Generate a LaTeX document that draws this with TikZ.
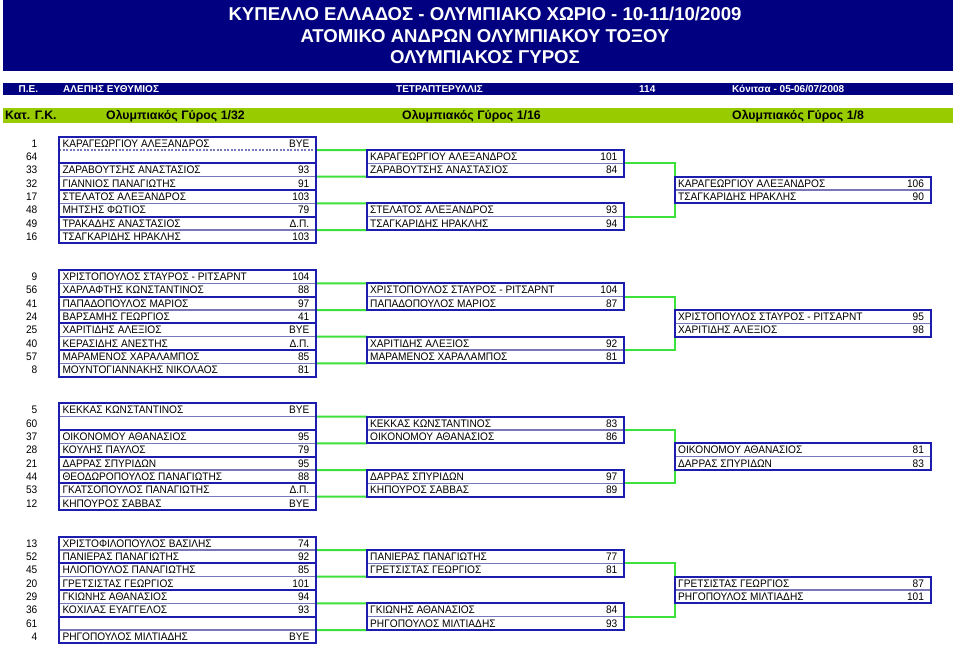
\documentclass[tikz,border=0pt]{standalone}
\usepackage{fontspec}
\setmainfont{Liberation Sans}
\newfontfamily\bodyfam[FakeStretch=0.93]{Liberation Sans}
\usetikzlibrary{calc}
\definecolor{navy}{RGB}{0,0,128}
\definecolor{barGreen}{RGB}{153,204,0}
\definecolor{boxBlue}{RGB}{28,28,175}
\definecolor{sepLine}{RGB}{120,120,185}
\definecolor{connGreen}{RGB}{60,225,60}
\pgfdeclarelayer{bg}
\pgfdeclarelayer{paper}
\pgfsetlayers{paper,bg,main}
\newcommand\bodyfont{\bodyfam\fontsize{10.9}{12}\selectfont}
\tikzset{
  pbox/.style={draw=boxBlue, line width=2pt, rectangle, inner sep=0pt, outer sep=0pt, minimum height=26.67pt, anchor=north west},
  nm/.style={anchor=base west, inner sep=0pt, font=\bodyfont},
  sc/.style={anchor=base east, inner sep=0pt, font=\bodyfont},
  seed/.style={anchor=base east, inner sep=0pt, font=\bodyfont},
  sepsolid/.style={draw=sepLine, line width=1.3pt},
  sepdash/.style={draw=sepLine, line width=1.3pt, dash pattern=on 2pt off 1.5pt},
  conn/.style={draw=connGreen, line width=2pt},
  ttl/.style={anchor=base, inner sep=0pt, text=white, font=\fontsize{18.6}{20}\selectfont\bfseries},
  infotxt/.style={anchor=base west, inner sep=0pt, text=white, font=\fontsize{10}{11}\selectfont\bfseries},
  roundtxt/.style={anchor=base west, inner sep=0pt, text=black, font=\fontsize{12.3}{14}\selectfont\bfseries},
}
\newcommand\h{13.333}
% #1 name, #2 x, #3 y top, #4 width, #5 name1, #6 score1, #7 name2, #8 score2, #9 separator style
\newcommand\pairbox[9]{%
  \node[pbox, minimum width=#4pt] (#1) at (#2,#3) {};
  \begin{pgfonlayer}{bg}
    \draw[#9] (#1.west) -- (#1.east);
  \end{pgfonlayer}
  \node[nm] (#1n1) at ($(#1.north west)+(3,10.6)$) {#5};
  \node[sc] (#1s1) at ($(#1.north east)+(-6.5,10.6)$) {#6};
  \node[nm] (#1n2) at ($(#1.north west)+(3,23.93)$) {#7};
  \node[sc] (#1s2) at ($(#1.north east)+(-6.5,23.93)$) {#8};
}
\newcommand\seednum[3]{\node[seed] (#1) at (37.5,{\T+#2*\h+10.6}) {#3};}
\newcommand\links[1]{%
  \begin{pgfonlayer}{bg}
    \draw[conn] (#1a.east) -- (#1m1.north west);
    \draw[conn] (#1b.east) -- (#1m1.south west);
    \draw[conn] (#1c.east) -- (#1m2.north west);
    \draw[conn] (#1d.east) -- (#1m2.south west);
    \draw[conn] (#1m1.east) -| (#1f.west) |- (#1m2.east);
  \end{pgfonlayer}
}
\begin{document}
\begin{tikzpicture}[x=1pt,y=-1pt]
\useasboundingbox (0,0) rectangle (960,648);
\begin{pgfonlayer}{paper}
\fill[white] (0,0) rectangle (960,648);
\end{pgfonlayer}
% header
\fill[navy] (3,0) rectangle (953,71);
\node[ttl] (title1) at (485,20.5) {ΚΥΠΕΛΛΟ ΕΛΛΑΔΟΣ - ΟΛΥΜΠΙΑΚΟ ΧΩΡΙΟ - 10-11/10/2009};
\node[ttl] (title2) at (485,42) {ΑΤΟΜΙΚΟ ΑΝΔΡΩΝ ΟΛΥΜΠΙΑΚΟΥ ΤΟΞΟΥ};
\node[ttl] (title3) at (485,63.5) {ΟΛΥΜΠΙΑΚΟΣ ΓΥΡΟΣ};
% info bar
\fill[navy] (3,82.7) rectangle (953,95);
\node[infotxt] (pe) at (18.5,92.5) {Π.Ε.};
\node[infotxt] (judge) at (63,92.5) {ΑΛΕΠΗΣ ΕΥΘΥΜΙΟΣ};
\node[infotxt] (club) at (396,92.5) {ΤΕΤΡΑΠΤΕΡΥΛΛΙΣ};
\node[infotxt] (score) at (639,92.5) {114};
\node[infotxt] (place) at (732,92.5) {Κόνιτσα - 05-06/07/2008};
% rounds bar
\fill[barGreen] (3,107.7) rectangle (953,123.3);
\node[roundtxt] (cat) at (5,119.8) {Κατ. Γ.Κ.};
\node[roundtxt] (r32) at (106,119.8) {Ολυμπιακός Γύρος 1/32};
\node[roundtxt] (r16) at (402,119.8) {Ολυμπιακός Γύρος 1/16};
\node[roundtxt] (r8) at (732,119.8) {Ολυμπιακός Γύρος 1/8};

% ---------- section 1
\def\T{136.67}
\seednum{Aq0}{0}{1}\seednum{Aq1}{1}{64}\seednum{Aq2}{2}{33}\seednum{Aq3}{3}{32}
\seednum{Aq4}{4}{17}\seednum{Aq5}{5}{48}\seednum{Aq6}{6}{49}\seednum{Aq7}{7}{16}
\pairbox{Aa}{59.3}{\T}{256.7}{ΚΑΡΑΓΕΩΡΓΙΟΥ ΑΛΕΞΑΝΔΡΟΣ}{BYE}{}{}{sepdash}
\pairbox{Ab}{59.3}{\T+2*\h}{256.7}{ΖΑΡΑΒΟΥΤΣΗΣ ΑΝΑΣΤΑΣΙΟΣ}{93}{ΓΙΑΝΝΙΟΣ ΠΑΝΑΓΙΩΤΗΣ}{91}{sepsolid}
\pairbox{Ac}{59.3}{\T+4*\h}{256.7}{ΣΤΕΛΑΤΟΣ ΑΛΕΞΑΝΔΡΟΣ}{103}{ΜΗΤΣΗΣ ΦΩΤΙΟΣ}{79}{sepsolid}
\pairbox{Ad}{59.3}{\T+6*\h}{256.7}{ΤΡΑΚΑΔΗΣ ΑΝΑΣΤΑΣΙΟΣ}{Δ.Π.}{ΤΣΑΓΚΑΡΙΔΗΣ ΗΡΑΚΛΗΣ}{103}{sepsolid}
\pairbox{Am1}{367}{\T+\h}{257}{ΚΑΡΑΓΕΩΡΓΙΟΥ ΑΛΕΞΑΝΔΡΟΣ}{101}{ΖΑΡΑΒΟΥΤΣΗΣ ΑΝΑΣΤΑΣΙΟΣ}{84}{sepsolid}
\pairbox{Am2}{367}{\T+5*\h}{257}{ΣΤΕΛΑΤΟΣ ΑΛΕΞΑΝΔΡΟΣ}{93}{ΤΣΑΓΚΑΡΙΔΗΣ ΗΡΑΚΛΗΣ}{94}{sepsolid}
\pairbox{Af}{675}{\T+3*\h}{255.7}{ΚΑΡΑΓΕΩΡΓΙΟΥ ΑΛΕΞΑΝΔΡΟΣ}{106}{ΤΣΑΓΚΑΡΙΔΗΣ ΗΡΑΚΛΗΣ}{90}{sepsolid}
\links{A}

% ---------- section 2
\def\T{270}
\seednum{Bq0}{0}{9}\seednum{Bq1}{1}{56}\seednum{Bq2}{2}{41}\seednum{Bq3}{3}{24}
\seednum{Bq4}{4}{25}\seednum{Bq5}{5}{40}\seednum{Bq6}{6}{57}\seednum{Bq7}{7}{8}
\pairbox{Ba}{59.3}{\T}{256.7}{ΧΡΙΣΤΟΠΟΥΛΟΣ ΣΤΑΥΡΟΣ - ΡΙΤΣΑΡΝΤ}{104}{ΧΑΡΛΑΦΤΗΣ ΚΩΝΣΤΑΝΤΙΝΟΣ}{88}{sepsolid}
\pairbox{Bb}{59.3}{\T+2*\h}{256.7}{ΠΑΠΑΔΟΠΟΥΛΟΣ ΜΑΡΙΟΣ}{97}{ΒΑΡΣΑΜΗΣ ΓΕΩΡΓΙΟΣ}{41}{sepsolid}
\pairbox{Bc}{59.3}{\T+4*\h}{256.7}{ΧΑΡΙΤΙΔΗΣ ΑΛΕΞΙΟΣ}{BYE}{ΚΕΡΑΣΙΔΗΣ ΑΝΕΣΤΗΣ}{Δ.Π.}{sepsolid}
\pairbox{Bd}{59.3}{\T+6*\h}{256.7}{ΜΑΡΑΜΕΝΟΣ ΧΑΡΑΛΑΜΠΟΣ}{85}{ΜΟΥΝΤΟΓΙΑΝΝΑΚΗΣ ΝΙΚΟΛΑΟΣ}{81}{sepsolid}
\pairbox{Bm1}{367}{\T+\h}{257}{ΧΡΙΣΤΟΠΟΥΛΟΣ ΣΤΑΥΡΟΣ - ΡΙΤΣΑΡΝΤ}{104}{ΠΑΠΑΔΟΠΟΥΛΟΣ ΜΑΡΙΟΣ}{87}{sepsolid}
\pairbox{Bm2}{367}{\T+5*\h}{257}{ΧΑΡΙΤΙΔΗΣ ΑΛΕΞΙΟΣ}{92}{ΜΑΡΑΜΕΝΟΣ ΧΑΡΑΛΑΜΠΟΣ}{81}{sepsolid}
\pairbox{Bf}{675}{\T+3*\h}{255.7}{ΧΡΙΣΤΟΠΟΥΛΟΣ ΣΤΑΥΡΟΣ - ΡΙΤΣΑΡΝΤ}{95}{ΧΑΡΙΤΙΔΗΣ ΑΛΕΞΙΟΣ}{98}{sepsolid}
\links{B}

% ---------- section 3
\def\T{403.33}
\seednum{Cq0}{0}{5}\seednum{Cq1}{1}{60}\seednum{Cq2}{2}{37}\seednum{Cq3}{3}{28}
\seednum{Cq4}{4}{21}\seednum{Cq5}{5}{44}\seednum{Cq6}{6}{53}\seednum{Cq7}{7}{12}
\pairbox{Ca}{59.3}{\T}{256.7}{ΚΕΚΚΑΣ ΚΩΝΣΤΑΝΤΙΝΟΣ}{BYE}{}{}{sepsolid}
\pairbox{Cb}{59.3}{\T+2*\h}{256.7}{ΟΙΚΟΝΟΜΟΥ ΑΘΑΝΑΣΙΟΣ}{95}{ΚΟΥΛΗΣ ΠΑΥΛΟΣ}{79}{sepsolid}
\pairbox{Cc}{59.3}{\T+4*\h}{256.7}{ΔΑΡΡΑΣ ΣΠΥΡΙΔΩΝ}{95}{ΘΕΟΔΩΡΟΠΟΥΛΟΣ ΠΑΝΑΓΙΩΤΗΣ}{88}{sepsolid}
\pairbox{Cd}{59.3}{\T+6*\h}{256.7}{ΓΚΑΤΣΟΠΟΥΛΟΣ ΠΑΝΑΓΙΩΤΗΣ}{Δ.Π.}{ΚΗΠΟΥΡΟΣ ΣΑΒΒΑΣ}{BYE}{sepsolid}
\pairbox{Cm1}{367}{\T+\h}{257}{ΚΕΚΚΑΣ ΚΩΝΣΤΑΝΤΙΝΟΣ}{83}{ΟΙΚΟΝΟΜΟΥ ΑΘΑΝΑΣΙΟΣ}{86}{sepsolid}
\pairbox{Cm2}{367}{\T+5*\h}{257}{ΔΑΡΡΑΣ ΣΠΥΡΙΔΩΝ}{97}{ΚΗΠΟΥΡΟΣ ΣΑΒΒΑΣ}{89}{sepsolid}
\pairbox{Cf}{675}{\T+3*\h}{255.7}{ΟΙΚΟΝΟΜΟΥ ΑΘΑΝΑΣΙΟΣ}{81}{ΔΑΡΡΑΣ ΣΠΥΡΙΔΩΝ}{83}{sepsolid}
\links{C}

% ---------- section 4
\def\T{536.67}
\seednum{Dq0}{0}{13}\seednum{Dq1}{1}{52}\seednum{Dq2}{2}{45}\seednum{Dq3}{3}{20}
\seednum{Dq4}{4}{29}\seednum{Dq5}{5}{36}\seednum{Dq6}{6}{61}\seednum{Dq7}{7}{4}
\pairbox{Da}{59.3}{\T}{256.7}{ΧΡΙΣΤΟΦΙΛΟΠΟΥΛΟΣ ΒΑΣΙΛΗΣ}{74}{ΠΑΝΙΕΡΑΣ ΠΑΝΑΓΙΩΤΗΣ}{92}{sepsolid}
\pairbox{Db}{59.3}{\T+2*\h}{256.7}{ΗΛΙΟΠΟΥΛΟΣ ΠΑΝΑΓΙΩΤΗΣ}{85}{ΓΡΕΤΣΙΣΤΑΣ ΓΕΩΡΓΙΟΣ}{101}{sepsolid}
\pairbox{Dc}{59.3}{\T+4*\h}{256.7}{ΓΚΙΩΝΗΣ ΑΘΑΝΑΣΙΟΣ}{94}{ΚΟΧΙΛΑΣ ΕΥΑΓΓΕΛΟΣ}{93}{sepsolid}
\pairbox{Dd}{59.3}{\T+6*\h}{256.7}{}{}{ΡΗΓΟΠΟΥΛΟΣ ΜΙΛΤΙΑΔΗΣ}{BYE}{sepsolid}
\pairbox{Dm1}{367}{\T+\h}{257}{ΠΑΝΙΕΡΑΣ ΠΑΝΑΓΙΩΤΗΣ}{77}{ΓΡΕΤΣΙΣΤΑΣ ΓΕΩΡΓΙΟΣ}{81}{sepsolid}
\pairbox{Dm2}{367}{\T+5*\h}{257}{ΓΚΙΩΝΗΣ ΑΘΑΝΑΣΙΟΣ}{84}{ΡΗΓΟΠΟΥΛΟΣ ΜΙΛΤΙΑΔΗΣ}{93}{sepsolid}
\pairbox{Df}{675}{\T+3*\h}{255.7}{ΓΡΕΤΣΙΣΤΑΣ ΓΕΩΡΓΙΟΣ}{87}{ΡΗΓΟΠΟΥΛΟΣ ΜΙΛΤΙΑΔΗΣ}{101}{sepsolid}
\links{D}
\end{tikzpicture}
\end{document}
